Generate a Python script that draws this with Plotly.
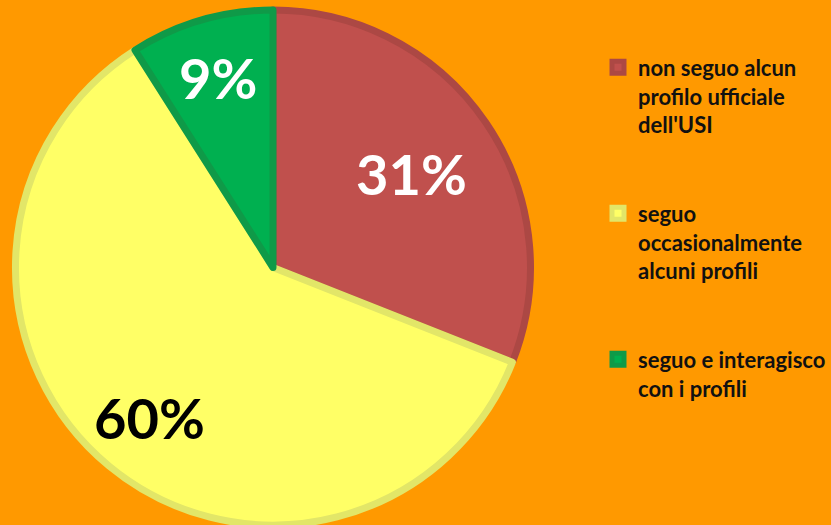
import math
import plotly.graph_objects as go

labels = ["non seguo alcun<br>profilo ufficiale<br>dell'USI<br><br>",
          "seguo<br>occasionalmente<br>alcuni profili<br><br>",
          "seguo e interagisco<br>con i profili"]
values = [31, 60, 9]
fill_colors = ["#C0504D", "#FFFF66", "#00B050"]
border_colors = ["#AC4844", "#E2E668", "#0F9A48"]
text_colors = ["#FFFFFF", "#000000", "#FFFFFF"]
label_radius = [0.65, 0.755, 0.77]

W, H = 831, 525
ML, MR, MT, MB = 0, 0, 10, 0
dom_x = [0, 0.657]

fig = go.Figure(go.Pie(
    labels=labels,
    values=values,
    sort=False,
    direction="clockwise",
    rotation=0,
    marker=dict(colors=fill_colors, line=dict(color=border_colors, width=7)),
    textinfo="none",
    domain=dict(x=dom_x, y=[0, 1]),
    hoverinfo="label+percent",
))

# percentage labels placed along each slice bisector
pw, ph = W - ML - MR, H - MT - MB
cx = (dom_x[0] + dom_x[1]) / 2 * pw
cy = ph / 2
R = min((dom_x[1] - dom_x[0]) * pw, ph) / 2
total = sum(values)
cum = 0
for v, col, rf in zip(values, text_colors, label_radius):
    mid = (cum + v / 2) / total * 2 * math.pi
    cum += v
    x_px = cx + rf * R * math.sin(mid)
    y_px = cy - rf * R * math.cos(mid)
    fig.add_annotation(
        x=x_px / pw, y=1 - y_px / ph, xref="paper", yref="paper",
        text=f"{round(v / total * 100)}%", showarrow=False,
        font=dict(family="Lato", size=56, color=col, weight="bold"),
        xanchor="center", yanchor="middle",
    )

fig.update_layout(
    width=W, height=H,
    paper_bgcolor="#FF9900",
    plot_bgcolor="#FF9900",
    margin=dict(l=ML, r=MR, t=MT, b=MB),
    showlegend=True,
    legend=dict(
        x=(638 - 40) / W, y=0.929, xanchor="left", yanchor="top",
        valign="top",
        font=dict(family="Lato", size=22, color="#111111", weight="bold"),
        bgcolor="rgba(0,0,0,0)",
    ),
)

fig.write_html("out.html", config={"displayModeBar": False},
               post_script="document.body.style.margin='0';document.body.style.background='#FF9900';")
